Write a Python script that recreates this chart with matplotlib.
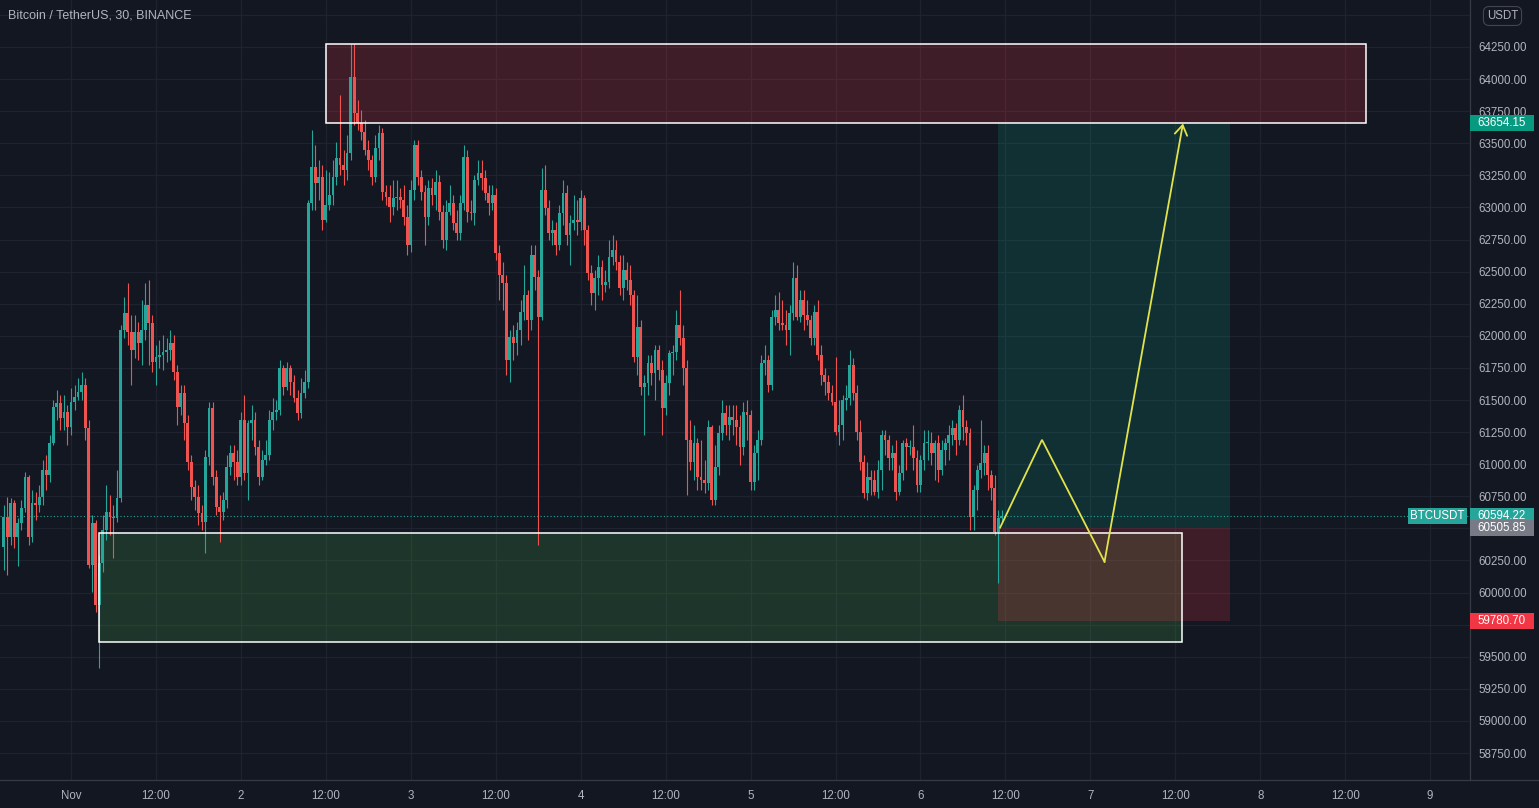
import matplotlib
matplotlib.use("Agg")
import matplotlib.pyplot as plt
import matplotlib.transforms as mtransforms
from matplotlib.patches import Rectangle
from matplotlib.lines import Line2D
import numpy as np
import pandas as pd

# 30 min BTCUSDT candles, first one at Oct 31 14:30
first_candle = "2021-10-31 14:30"

opens = [60355, 60589, 60433, 60698, 60433, 60542, 60659, 60900, 60433, 60698,
         60682, 60744, 60955, 60916, 61165, 61446, 61477, 61360, 61407, 61290,
         61484, 61523, 61562, 61617, 61282, 60215, 60542, 59903, 60230, 60487,
         60628, 60589, 60581, 60737, 62045, 62178, 62030, 61890, 62030, 61944,
         62045, 62240, 62100, 61796, 61835, 61851, 61874, 61890, 61944, 61718,
         61446, 61554, 61321, 61017, 60822, 60744, 60620, 60550, 61056, 61438,
         60900, 60667, 60628, 60721, 60978, 61087, 61017, 60900, 61344, 60931,
         61321, 61344, 61134, 60900, 61033, 61072, 61344, 61407, 61422, 61749,
         61601, 61749, 61640, 61516, 61399, 61554, 61640, 63035, 63315, 63190,
         63237, 62902, 63019, 63097, 63237, 63385, 63331, 63292, 63424, 64016,
         63736, 63658, 63588, 63448, 63370, 63237, 63463, 63580, 63120, 63081,
         63004, 63074, 63081, 63058, 62926, 62708, 63136, 63487, 63237, 63120,
         62926, 63151, 63097, 63198, 62965, 62747, 62965, 63035, 62879, 62801,
         63035, 63393, 62965, 62957, 63214, 63268, 63229, 63112, 63035, 63097,
         62645, 62474, 62412, 61812, 61991, 61944, 62045, 62186, 62318, 62123,
         62630, 62458, 62147, 63136, 62996, 62801, 62824, 62708, 62957, 63112,
         62785, 62879, 62902, 62887, 63074, 62824, 62489, 62334, 62450, 62536,
         62396, 62419, 62614, 62669, 62575, 62373, 62513, 62435, 62318, 61835,
         62069, 61601, 61632, 61788, 61710, 61890, 61734, 61438, 61632, 61866,
         61874, 62084, 61983, 61749, 61188, 61017, 61165, 60900, 60877, 60853,
         61290, 60721, 60978, 61243, 61399, 61305, 61368, 61344, 61290, 61134,
         61407, 61383, 60861, 61087, 61188, 61788, 61812, 61617, 62147, 62201,
         62100, 62084, 62045, 62178, 62450, 62147, 62279, 62162, 62123, 61983,
         62186, 61851, 61695, 61640, 61554, 61484, 61251, 61305, 61500, 61516,
         61773, 61554, 61251, 61017, 60776, 60900, 60877, 60783, 60955, 61227,
         61188, 61048, 61087, 60783, 60931, 61165, 61134, 61134, 61048, 60838,
         61033, 61165, 61165, 61087, 61165, 60955, 61110, 61165, 61227, 61282,
         61188, 61422, 61290, 61243, 60589, 60799, 60955, 61009, 61087, 60916,
         60815, 60472, 60581]

highs = [60682, 60744, 60737, 60721, 60581, 60721, 60939, 60916, 60799, 60783,
         60838, 61033, 61072, 61227, 61500, 61578, 61539, 61539, 61461, 61593,
         61617, 61671, 61718, 61671, 61344, 60604, 60565, 60292, 60604, 60838,
         60760, 60682, 60955, 62084, 62302, 62412, 62162, 62162, 62108, 62279,
         62412, 62435, 62162, 61928, 61967, 62006, 61983, 62045, 62006, 61773,
         61617, 61617, 61383, 61072, 60877, 60838, 60682, 61110, 61484, 61484,
         60955, 60760, 60783, 61072, 61149, 61149, 61110, 61407, 61539, 61344,
         61461, 61407, 61188, 61110, 61188, 61422, 61516, 61500, 61812, 61773,
         61796, 61773, 61695, 61578, 61671, 61734, 63058, 63603, 63487, 63370,
         63331, 63292, 63276, 63370, 63510, 63876, 63448, 63564, 64273, 64273,
         63837, 63759, 63681, 63525, 63409, 63564, 63642, 63619, 63175, 63175,
         63214, 63214, 63151, 63175, 63019, 63214, 63525, 63525, 63292, 63175,
         63214, 63229, 63292, 63253, 63019, 63058, 63175, 63097, 62980, 63097,
         63487, 63448, 63058, 63253, 63370, 63370, 63292, 63175, 63175, 63151,
         62708, 62575, 62474, 62045, 62084, 62108, 62279, 62552, 62357, 62708,
         62708, 62513, 63307, 63331, 63058, 62902, 62887, 63019, 63214, 63175,
         62941, 63097, 63058, 63136, 63097, 62863, 62552, 62513, 62630, 62591,
         62513, 62747, 62785, 62747, 62630, 62630, 62575, 62552, 62357, 62318,
         62123, 61695, 61851, 61851, 61928, 61928, 61812, 61695, 61890, 61928,
         62201, 62357, 62084, 61812, 61344, 61305, 61204, 61188, 61033, 61344,
         61305, 61149, 61305, 61500, 61461, 61461, 61461, 61461, 61383, 61484,
         61500, 61422, 61149, 61266, 61851, 61928, 61851, 62201, 62318, 62341,
         62279, 62201, 62240, 62575, 62552, 62357, 62357, 62279, 62162, 62240,
         62279, 61928, 61749, 61695, 61617, 61835, 61500, 61539, 61617, 61890,
         61827, 61617, 61344, 61072, 61017, 60955, 60955, 61033, 61266, 61266,
         61227, 61149, 61188, 60994, 61188, 61204, 61188, 61305, 61110, 61072,
         61266, 61266, 61251, 61188, 61227, 61188, 61204, 61305, 61344, 61321,
         61461, 61539, 61344, 61282, 60838, 60994, 61344, 61149, 61149, 60955,
         60916, 60643, 60643]

lows = [60176, 60137, 60371, 60347, 60207, 60487, 60628, 60371, 60394, 60565,
        60628, 60682, 60799, 60861, 61149, 61344, 61266, 61266, 61149, 61227,
        61422, 61500, 61500, 61188, 60191, 60006, 59848, 59412, 60160, 60410,
        60448, 60269, 60550, 60705, 61983, 61928, 61617, 61827, 61812, 61773,
        61967, 61773, 61718, 61617, 61749, 61734, 61796, 61812, 61656, 61305,
        61383, 61188, 60955, 60721, 60643, 60526, 60487, 60308, 60994, 60838,
        60604, 60394, 60565, 60659, 60916, 60877, 60838, 60838, 60877, 60721,
        61188, 61072, 60838, 60877, 60994, 61033, 61266, 61344, 61383, 61539,
        61578, 61539, 61484, 61344, 61360, 61516, 61593, 62980, 62980, 63058,
        62824, 62887, 62980, 63019, 63175, 63253, 63175, 63214, 63370, 63642,
        63603, 63525, 63409, 63292, 63175, 63198, 63370, 63058, 63019, 62887,
        62941, 62980, 62996, 62863, 62630, 62653, 63058, 63175, 63058, 62708,
        62863, 63019, 62980, 62902, 62684, 62669, 62941, 62824, 62747, 62747,
        62980, 62887, 62902, 62863, 63175, 63136, 63058, 62941, 62980, 62591,
        62279, 62201, 61695, 61640, 61812, 61851, 61928, 62123, 61967, 62045,
        62357, 60371, 62123, 62941, 62747, 62708, 62630, 62669, 62863, 62708,
        62552, 62824, 62785, 62824, 62708, 62435, 62240, 62201, 62318, 62279,
        62341, 62373, 62552, 62513, 62318, 62279, 62357, 62240, 61796, 61695,
        61539, 61227, 61539, 61617, 61500, 61656, 61227, 61383, 61539, 61695,
        61812, 61928, 61617, 60760, 60955, 60877, 60799, 60799, 60776, 60799,
        60682, 60682, 60916, 61188, 61227, 61188, 61227, 61149, 60994, 61072,
        61188, 60799, 60799, 60877, 61149, 61695, 61562, 61578, 62084, 62045,
        62045, 61928, 61851, 62123, 62123, 62108, 62045, 62084, 61928, 61928,
        61812, 61617, 61539, 61500, 61461, 61227, 61149, 61188, 61422, 61461,
        61500, 61188, 60955, 60737, 60721, 60760, 60760, 60737, 60799, 61072,
        60955, 60955, 60721, 60760, 60877, 60955, 61072, 60955, 60783, 60783,
        60955, 61033, 60994, 60877, 60861, 60916, 60994, 61033, 61149, 61072,
        61149, 61188, 61149, 60487, 60487, 60643, 60892, 60916, 60799, 60721,
        60448, 60075, 60550]

closes = [60589, 60433, 60698, 60433, 60542, 60659, 60900, 60433, 60698, 60682,
          60744, 60955, 60916, 61165, 61446, 61477, 61360, 61407, 61290, 61484,
          61523, 61562, 61617, 61282, 60215, 60542, 59903, 60230, 60487, 60628,
          60589, 60581, 60737, 62045, 62178, 62030, 61890, 62030, 61944, 62045,
          62240, 62100, 61796, 61835, 61851, 61874, 61890, 61944, 61718, 61446,
          61554, 61321, 61017, 60822, 60744, 60620, 60550, 61056, 61438, 60900,
          60667, 60628, 60721, 60978, 61087, 61017, 60900, 61344, 60931, 61321,
          61344, 61134, 60900, 61033, 61072, 61344, 61407, 61422, 61749, 61601,
          61749, 61640, 61516, 61399, 61554, 61640, 63035, 63315, 63190, 63237,
          62902, 63019, 63097, 63237, 63385, 63331, 63292, 63424, 64016, 63736,
          63658, 63588, 63448, 63370, 63237, 63463, 63580, 63120, 63081, 63004,
          63074, 63081, 63058, 62926, 62708, 63136, 63487, 63237, 63120, 62926,
          63151, 63097, 63198, 62965, 62747, 62965, 63035, 62879, 62801, 63035,
          63393, 62965, 62957, 63214, 63268, 63229, 63112, 63035, 63097, 62645,
          62474, 62412, 61812, 61991, 61944, 62045, 62186, 62318, 62123, 62630,
          62458, 62147, 63136, 62996, 62801, 62824, 62708, 62957, 63112, 62785,
          62879, 62902, 62887, 63074, 62824, 62489, 62334, 62450, 62536, 62396,
          62419, 62614, 62669, 62575, 62373, 62513, 62435, 62318, 61835, 62069,
          61601, 61632, 61788, 61710, 61890, 61734, 61438, 61632, 61866, 61874,
          62084, 61983, 61749, 61188, 61017, 61165, 60900, 60877, 60853, 61290,
          60721, 60978, 61243, 61399, 61305, 61368, 61344, 61290, 61134, 61407,
          61383, 60861, 61087, 61188, 61788, 61812, 61617, 62147, 62201, 62100,
          62084, 62045, 62178, 62450, 62147, 62279, 62162, 62123, 61983, 62186,
          61851, 61695, 61640, 61554, 61484, 61251, 61305, 61500, 61516, 61773,
          61554, 61251, 61017, 60776, 60900, 60877, 60783, 60955, 61227, 61188,
          61048, 61087, 60783, 60931, 61165, 61134, 61134, 61048, 60838, 61033,
          61165, 61165, 61087, 61165, 60955, 61110, 61165, 61227, 61282, 61188,
          61422, 61290, 61243, 60589, 60799, 60955, 61009, 61087, 60916, 60815,
          60472, 60581, 60594.22]

tick_labels = ["Nov", "12:00", "2", "12:00", "3", "12:00", "4", "12:00", "5",
               "12:00", "6", "12:00", "7", "12:00", "8", "12:00", "9"]
price_ticks = list(range(58750, 64501, 250))
# scale levels whose label sits under a tag or the currency badge
hidden_levels = [64500, 60500, 59750]

# drawings on the chart
supply_zone = ("2021-11-02 12:00", "2021-11-08 15:00", 63660, 64273)
demand_zone = ("2021-11-01 04:00", "2021-11-07 13:00", 59615, 60464)
position_span = ("2021-11-06 11:00", "2021-11-07 19:45")
target_price = 63654.15
entry_price = 60505.85
stop_price = 59780.70
last_price = 60594.22
path_times = ["2021-11-06 11:15", "2021-11-06 17:10", "2021-11-07 02:00", "2021-11-07 13:05"]
path_prices = [60505.85, 61190, 60240, 63654.15]

BG = "#131722"
GRID = "#1f2330"
TXT = "#b2b5be"
UP = "#26a69a"
DOWN = "#ef5350"
YELLOW = "#e2e34c"

plt.rcParams["font.family"] = ["Liberation Sans", "DejaVu Sans"]

day0 = pd.Timestamp("2021-11-01")


def to_h(t):
    return (pd.Timestamp(t) - day0) / pd.Timedelta(hours=1)


fig = plt.figure(figsize=(15.39, 8.08), dpi=100, facecolor=BG)
ax = fig.add_axes([0, 28 / 808, 1470 / 1539, 780 / 808])
ax.set_facecolor(BG)

times = pd.date_range(first_candle, periods=len(closes), freq="30min")
x = ((times - day0) / pd.Timedelta(hours=1)).to_numpy()
o = np.array(opens, dtype=float)
c = np.array(closes, dtype=float)
colors = np.where(c >= o, UP, DOWN)

ax.vlines(x, lows, highs, colors=colors, lw=0.8, zorder=3)
ax.bar(x, np.maximum(np.abs(c - o), 8), bottom=np.minimum(o, c), width=0.4,
       color=colors, lw=0, zorder=4)

# supply / demand boxes
for (t0, t1, p0, p1), col in [(supply_zone, "#f23645"), (demand_zone, "#4caf50")]:
    ax.add_patch(Rectangle((to_h(t0), p0), to_h(t1) - to_h(t0), p1 - p0,
                           fc=col, alpha=0.2, lw=0, zorder=1))
    ax.add_patch(Rectangle((to_h(t0), p0), to_h(t1) - to_h(t0), p1 - p0,
                           fc="none", ec="white", lw=1.1, zorder=5))

# long position tool
px0, px1 = to_h(position_span[0]), to_h(position_span[1])
ax.add_patch(Rectangle((px0, entry_price), px1 - px0, target_price - entry_price,
                       fc="#089981", alpha=0.2, lw=0, zorder=1.5))
ax.add_patch(Rectangle((px0, stop_price), px1 - px0, entry_price - stop_price,
                       fc="#f23645", alpha=0.2, lw=0, zorder=1.5))

# last price line
ax.axhline(last_price, color=UP, lw=0.8, ls=(0, (1, 2)), zorder=2)

# projected path
ph = [to_h(t) for t in path_times]
ax.plot(ph[:-1], path_prices[:-1], color=YELLOW, lw=1.3, zorder=6,
        solid_joinstyle="miter")
ax.annotate("", xy=(ph[-1], path_prices[-1]), xytext=(ph[-2], path_prices[-2]),
            arrowprops=dict(arrowstyle="->,head_length=0.7,head_width=0.45",
                            color=YELLOW, lw=1.3, shrinkA=0, shrinkB=0),
            zorder=6)

# axes
ax.set_xlim(-10.03, 197.63)
ax.set_ylim(58540, 64616)
ax.set_xticks(np.arange(0, 193, 12))
ax.set_xticklabels(tick_labels)
ax.set_yticks(price_ticks)
ax.set_yticklabels(["" if p in hidden_levels else f"{p:.2f}" for p in price_ticks])
ax.yaxis.tick_right()
ax.tick_params(axis="both", length=0, colors=TXT, labelsize=8.3)
ax.tick_params(axis="y", pad=6)
ax.tick_params(axis="x", pad=7)
ax.grid(True, color=GRID, lw=0.9)
ax.set_axisbelow(True)
for s in ["top", "left"]:
    ax.spines[s].set_visible(False)
for s in ["right", "bottom"]:
    ax.spines[s].set_color("#363a45")
    ax.spines[s].set_linewidth(0.9)
fig.add_artist(Line2D([1470 / 1539, 1], [28 / 808, 28 / 808], color="#363a45",
                      lw=0.9, transform=fig.transFigure))

# price tags on the right scale
trans = mtransforms.blended_transform_factory(ax.transAxes, ax.transData)
units_per_px = (64616 - 58540) / 780
tag_h = 16 * units_per_px


def price_tag(price, color, text=None):
    ax.add_patch(Rectangle((1.0, price - tag_h / 2), 64 / 1470, tag_h, fc=color,
                           lw=0, transform=trans, clip_on=False, zorder=7))
    ax.text(1 + 7 / 1470, price, text or f"{price:.2f}", transform=trans,
            ha="left", va="center", color="white", fontsize=8.3,
            clip_on=False, zorder=8)


price_tag(target_price, "#089981")
price_tag(last_price, UP)
price_tag(entry_price, "#787b86")
price_tag(stop_price, "#f23645")

ax.add_patch(Rectangle((1408 / 1470, last_price - tag_h / 2), 59 / 1470, tag_h,
                       fc=UP, lw=0, transform=trans, clip_on=False, zorder=7))
ax.text(1437.5 / 1470, last_price, "BTCUSDT", transform=trans, ha="center",
        va="center", color="white", fontsize=8.3, zorder=8)

# title and currency badge
fig.text(8 / 1539, 1 - 16 / 808, "Bitcoin / TetherUS, 30, BINANCE", ha="left",
         va="center", color=TXT, fontsize=9)
fig.text(1502.5 / 1539, 1 - 16 / 808, "USDT", ha="center", va="center",
         color=TXT, fontsize=8.3,
         bbox=dict(boxstyle="round,pad=0.3,rounding_size=0.5", fc=BG,
                   ec="#434651", lw=0.8))

fig.savefig("out.png", dpi=100, facecolor=BG)
